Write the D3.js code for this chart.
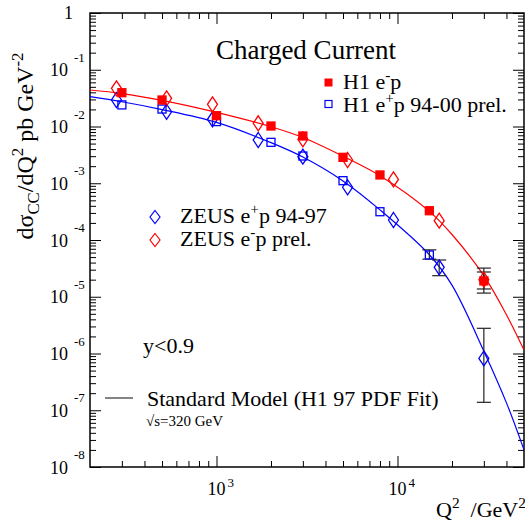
<!DOCTYPE html>
<html>
<head>
<meta charset="utf-8">
<script src="https://cdn.jsdelivr.net/npm/d3@7"></script>
<style>
  body { margin: 0; background: #fff; }
  text { font-family: "Liberation Serif", "Times New Roman", serif; fill: #000; }
</style>
</head>
<body>
<svg id="chart" width="525" height="525"></svg>
<script>
// values (Q2 in GeV^2, dsigma/dQ2 in pb/GeV^2)
const h1EmQ2 = [300, 500, 1000, 2000, 3000, 5000, 8000, 15000, 30000];
const h1EmXs = [0.0394, 0.0293, 0.0155, 0.0102, 0.0068, 0.00286, 0.0014, 3.28e-4, 1.9e-5];
const h1EmLo = [null, null, null, null, null, null, null, null, 1.16e-5];
const h1EmHi = [null, null, null, null, null, null, null, null, 3.2e-5];

const h1EpQ2 = [300, 500, 1000, 2000, 3000, 5000, 8000, 15000];
const h1EpXs = [0.024, 0.0203, 0.0122, 0.00526, 0.00302, 0.00111, 3.15e-4, 5.44e-5];
const h1EpLo = [null, null, null, null, null, null, null, 4.6e-5];
const h1EpHi = [null, null, null, null, null, null, null, 6.7e-5];

const zeusEpQ2 = [280, 530, 950, 1700, 3000, 5300, 9500, 17000, 30000];
const zeusEpXs = [0.0293, 0.0182, 0.0134, 0.00578, 0.00294, 8.5e-4, 2.25e-4, 3.3e-5, 8.2e-7];
const zeusEpLo = [null, null, null, null, null, null, null, 2.35e-5, 1.38e-7];
const zeusEpHi = [null, null, null, null, null, null, null, 4.44e-5, 2.78e-6];

const zeusEmQ2 = [280, 530, 950, 1700, 3000, 5300, 9500, 17000, 30000];
const zeusEmXs = [0.0471, 0.0314, 0.0246, 0.0114, 0.00594, 0.00257, 0.00117, 2.19e-4, 2.0e-5];
const zeusEmLo = [null, null, null, null, null, null, null, null, 1.37e-5];
const zeusEmHi = [null, null, null, null, null, null, null, null, 2.73e-5];

// Standard Model curves
const smQ2 = [200, 300, 500, 1000, 2000, 3000, 5000, 8000, 15000, 20000, 30000, 40000, 50000];
const smEm = [0.044, 0.0381, 0.0288, 0.0177, 0.0099, 0.0064, 0.0030, 0.00136, 3.2e-4, 1.25e-4, 2.35e-5, 4.8e-6, 1.15e-6];
const smEp = [0.0335, 0.0273, 0.0199, 0.0118, 0.0052, 0.0029, 0.0011, 3.4e-4, 5.5e-5, 1.6e-5, 1.1e-6, 1.35e-7, 2.0e-8];

// axis ticks
const xMajor = [1000, 10000];
const xMinor = [300, 400, 500, 600, 700, 800, 900, 2000, 3000, 4000, 5000, 6000, 7000, 8000, 9000, 20000, 30000, 40000];
const yExp = [0, -1, -2, -3, -4, -5, -6, -7, -8];

const svg = d3.select('#chart');
const margin = { top: 13, right: 1, bottom: 58, left: 90 };
const width = 525, height = 525;

const x = d3.scaleLog()
    .domain([200, 50000])
    .range([margin.left, width - margin.right]);

const y = d3.scaleLog()
    .domain([1e-8, 1])
    .range([height - margin.bottom, margin.top]);

const yMajor = yExp.map(e => Math.pow(10, e));
const yMinor = [];
yExp.slice(0, -1).forEach(e => {
    for (let m = 2; m <= 9; m++) yMinor.push(m * Math.pow(10, e - 1));
});

svg.append('defs').append('clipPath').attr('id', 'plot')
    .append('rect')
    .attr('x', margin.left).attr('y', margin.top)
    .attr('width', x.range()[1] - margin.left)
    .attr('height', y.range()[0] - margin.top);

// ticks on all four sides, pointing inwards
const axes = [
    [d3.axisRight(y), `translate(${margin.left},0)`, yMajor, yMinor],
    [d3.axisLeft(y), `translate(${x.range()[1]},0)`, yMajor, yMinor],
    [d3.axisTop(x), `translate(0,${y.range()[0]})`, xMajor, xMinor],
    [d3.axisBottom(x), `translate(0,${margin.top})`, xMajor, xMinor]
];
axes.forEach(([ax, tr, major, minor]) => {
    [[major, 11], [minor, 6]].forEach(([vals, len]) => {
        const g = svg.append('g')
            .attr('transform', tr)
            .call(ax.tickValues(vals).tickSize(len).tickSizeOuter(0).tickFormat(''));
        g.select('.domain').remove();
        g.selectAll('line').attr('stroke', '#000').attr('stroke-width', 1);
    });
});

svg.append('rect')
    .attr('x', margin.left).attr('y', margin.top)
    .attr('width', x.range()[1] - margin.left)
    .attr('height', y.range()[0] - margin.top)
    .attr('fill', 'none').attr('stroke', '#000').attr('stroke-width', 1.5);

// y tick labels
yExp.forEach(e => {
    const yy = y(Math.pow(10, e));
    if (e === 0) {
        svg.append('text').attr('x', 73).attr('y', yy + 6).attr('text-anchor', 'end')
            .attr('font-size', 18).text('1');
        return;
    }
    svg.append('text').attr('x', 68).attr('y', yy + 6.5).attr('text-anchor', 'end')
        .attr('font-size', 18).text('10');
    svg.append('text').attr('x', 74).attr('y', yy - 8)
        .attr('font-size', 13).text(e);
});

// x tick labels
xMajor.forEach(v => {
    const xx = x(v);
    svg.append('text').attr('x', xx).attr('y', 495).attr('text-anchor', 'middle')
        .attr('font-size', 18).text('10');
    svg.append('text').attr('x', xx + 11).attr('y', 487)
        .attr('font-size', 13).text(Math.round(Math.log10(v)));
});

// Standard Model curves
const line = d3.line()
    .x(d => x(d[0]))
    .y(d => y(d[1]))
    .curve(d3.curveCatmullRom.alpha(0.5));

const curves = svg.append('g').attr('clip-path', 'url(#plot)');
curves.append('path').datum(smQ2.map((q, i) => [q, smEm[i]]))
    .attr('d', line).attr('fill', 'none').attr('stroke', '#ff0000').attr('stroke-width', 1.2);
curves.append('path').datum(smQ2.map((q, i) => [q, smEp[i]]))
    .attr('d', line).attr('fill', 'none').attr('stroke', '#0000ff').attr('stroke-width', 1.2);

// error bars
const errs = svg.append('g');
function errorBars(q2, lo, hi) {
    q2.forEach((q, i) => {
        if (lo[i] == null) return;
        const xx = x(q);
        errs.append('line').attr('x1', xx).attr('x2', xx).attr('y1', y(lo[i])).attr('y2', y(hi[i]))
            .attr('stroke', '#222').attr('stroke-width', 1.2);
        [lo[i], hi[i]].forEach(v => {
            errs.append('line').attr('x1', xx - 7).attr('x2', xx + 7).attr('y1', y(v)).attr('y2', y(v))
                .attr('stroke', '#222').attr('stroke-width', 1.2);
        });
    });
}
errorBars(zeusEpQ2, zeusEpLo, zeusEpHi);
errorBars(zeusEmQ2, zeusEmLo, zeusEmHi);
errorBars(h1EpQ2, h1EpLo, h1EpHi);
errorBars(h1EmQ2, h1EmLo, h1EmHi);

// markers
const diamond = (w, h) => `M0,${-h} L${w},0 L0,${h} L${-w},0 Z`;

function diamonds(q2, xs, color) {
    svg.append('g').selectAll('path')
        .data(q2.map((q, i) => [q, xs[i]]))
        .enter().append('path')
        .attr('transform', d => `translate(${x(d[0])},${y(d[1])})`)
        .attr('d', diamond(5, 7.5))
        .attr('fill', 'none').attr('stroke', color).attr('stroke-width', 1.3);
}
function squares(q2, xs, color, filled) {
    svg.append('g').selectAll('rect')
        .data(q2.map((q, i) => [q, xs[i]]))
        .enter().append('rect')
        .attr('x', d => x(d[0]) - 4).attr('y', d => y(d[1]) - 4)
        .attr('width', 8).attr('height', 8)
        .attr('fill', filled ? color : 'none')
        .attr('stroke', color).attr('stroke-width', 1.3);
}
diamonds(zeusEpQ2, zeusEpXs, '#0000ff');
diamonds(zeusEmQ2, zeusEmXs, '#ff0000');
squares(h1EpQ2, h1EpXs, '#0000ff', false);
squares(h1EmQ2, h1EmXs, '#ff0000', true);

// title and legends
svg.append('text').attr('x', 306).attr('y', 59).attr('text-anchor', 'middle')
    .attr('font-size', 27).text('Charged Current');

function supText(tx, ty, size, parts) {
    const t = svg.append('text').attr('x', tx).attr('y', ty).attr('font-size', size);
    let shift = 0;
    parts.forEach(([str, kind]) => {
        const target = kind === 'sup' ? -0.4 * size : kind === 'sub' ? 0.25 * size : 0;
        const ts = t.append('tspan').attr('dy', target - shift).text(str);
        if (kind) ts.attr('font-size', size * 0.7);
        shift = target;
    });
    return t;
}

svg.append('rect').attr('x', 325).attr('y', 79).attr('width', 7).attr('height', 7)
    .attr('fill', '#ff0000').attr('stroke', '#ff0000');
supText(343, 89, 22, [['H1 e'], ['-', 'sup'], ['p']]);
svg.append('rect').attr('x', 325).attr('y', 100.5).attr('width', 7).attr('height', 7)
    .attr('fill', 'none').attr('stroke', '#0000ff').attr('stroke-width', 1.2);
supText(343, 112, 22, [['H1 e'], ['+', 'sup'], ['p 94-00 prel.']]);

svg.append('path').attr('transform', 'translate(155,217)').attr('d', diamond(5, 6.5))
    .attr('fill', 'none').attr('stroke', '#0000ff').attr('stroke-width', 1.2);
supText(180, 223, 22, [['ZEUS e'], ['+', 'sup'], ['p 94-97']]);
svg.append('path').attr('transform', 'translate(155,240)').attr('d', diamond(5, 6.5))
    .attr('fill', 'none').attr('stroke', '#ff0000').attr('stroke-width', 1.2);
supText(180, 246, 22, [['ZEUS e'], ['-', 'sup'], ['p prel.']]);

svg.append('text').attr('x', 143).attr('y', 353).attr('font-size', 22).text('y<0.9');

svg.append('line').attr('x1', 105).attr('x2', 133).attr('y1', 398).attr('y2', 398)
    .attr('stroke', '#333').attr('stroke-width', 1.2);
svg.append('text').attr('x', 147).attr('y', 406).attr('font-size', 22)
    .text('Standard Model (H1 97 PDF Fit)');
svg.append('text').attr('x', 146).attr('y', 426).attr('font-size', 15).text('\u221As=320 GeV');

// axis titles
supText(436, 517, 22, [['Q'], ['2', 'sup'], ['  /GeV'], ['2', 'sup']]).attr('xml:space', 'preserve');

const yt = supText(0, 0, 24, [['d\u03c3'], ['CC', 'sub'], ['/dQ'], ['2', 'sup'], [' pb GeV'], ['-2', 'sup']]);
yt.attr('text-anchor', 'middle').attr('transform', 'translate(33,146) rotate(-90)');
</script>
</body>
</html>
